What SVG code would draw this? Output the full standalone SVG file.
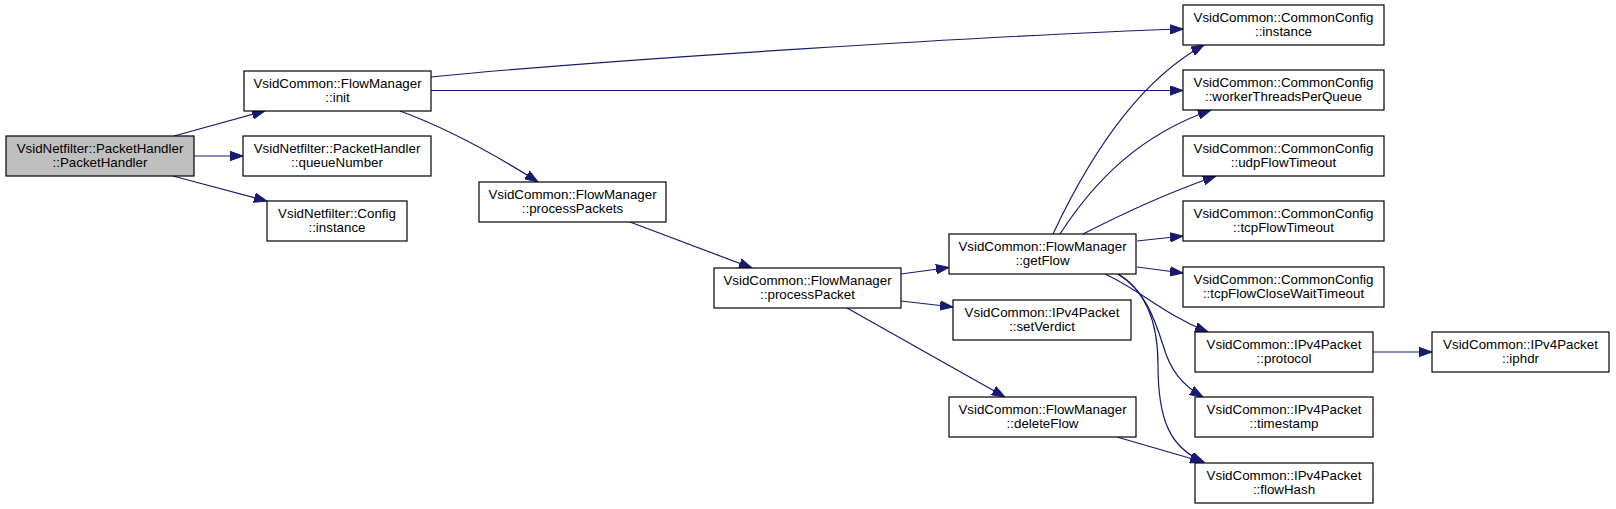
<svg xmlns="http://www.w3.org/2000/svg" width="1616" height="509" viewBox="0 0 1616 509">
<style>
.box{fill:#ffffff;stroke:#000000;stroke-width:1.2}
.root{fill:#bfbfbf}
text{font-family:"Liberation Sans",Arial,Helvetica,sans-serif;font-size:13.33px;fill:#000000;text-anchor:middle}
.e{fill:none;stroke:#191970;stroke-width:1.2}
</style>
<defs>
<marker id="arr" markerUnits="userSpaceOnUse" markerWidth="14" markerHeight="10" refX="13" refY="5" orient="auto">
<path d="M0,0.3 L13,5 L0,9.7 z" fill="#191970" stroke="#191970" stroke-width="1"/>
</marker>
</defs>
<rect width="1616" height="509" fill="#ffffff"/>
<g id="connectors">
<path class="e" marker-end="url(#arr)" d="M174,136 L265,111"/>
<path class="e" marker-end="url(#arr)" d="M194,156 L243,156"/>
<path class="e" marker-end="url(#arr)" d="M173,176 L267,201"/>
<path class="e" marker-end="url(#arr)" d="M431,77 C600,60 1000,35 1183,29"/>
<path class="e" marker-end="url(#arr)" d="M431,90.5 L1183,90.5"/>
<path class="e" marker-end="url(#arr)" d="M400,111 C430,122 480,145 538,182"/>
<path class="e" marker-end="url(#arr)" d="M630,222 L752,268"/>
<path class="e" marker-end="url(#arr)" d="M901,274 L949,267.5"/>
<path class="e" marker-end="url(#arr)" d="M901,301 L953,307"/>
<path class="e" marker-end="url(#arr)" d="M847,308 L1005,397"/>
<path class="e" marker-end="url(#arr)" d="M1053,234 C1090,155 1140,80 1204,45"/>
<path class="e" marker-end="url(#arr)" d="M1060,234 C1095,180 1140,135 1211,110"/>
<path class="e" marker-end="url(#arr)" d="M1083,234 C1120,215 1170,192 1216,176"/>
<path class="e" marker-end="url(#arr)" d="M1137,241 L1183,236"/>
<path class="e" marker-end="url(#arr)" d="M1137,267 L1183,273"/>
<path class="e" marker-end="url(#arr)" d="M1105,274 C1140,290 1165,315 1208,332"/>
<path class="e" marker-end="url(#arr)" d="M1118,274 C1145,290 1155,320 1163,345 C1170,370 1182,385 1203,397"/>
<path class="e" marker-end="url(#arr)" d="M1118,274 C1145,290 1158,320 1158,365 C1158,420 1170,448 1204,462"/>
<path class="e" marker-end="url(#arr)" d="M1117,437 L1203,462"/>
<path class="e" marker-end="url(#arr)" d="M1373,352 L1432,352"/>
</g>
<g id="n0"><rect class="box root" x="6" y="136" width="188" height="40"/><text x="100" y="152.6">VsidNetfilter::PacketHandler</text><text x="100" y="167.3">::PacketHandler</text></g>
<g id="n1"><rect class="box" x="244" y="71" width="187" height="40"/><text x="337.5" y="87.6">VsidCommon::FlowManager</text><text x="337.5" y="102.3">::init</text></g>
<g id="n2"><rect class="box" x="243" y="136" width="188" height="40"/><text x="337" y="152.6">VsidNetfilter::PacketHandler</text><text x="337" y="167.3">::queueNumber</text></g>
<g id="n3"><rect class="box" x="267" y="201" width="140" height="40"/><text x="337" y="217.6">VsidNetfilter::Config</text><text x="337" y="232.3">::instance</text></g>
<g id="n4"><rect class="box" x="1183" y="5" width="201" height="40"/><text x="1283.5" y="21.6">VsidCommon::CommonConfig</text><text x="1283.5" y="36.3">::instance</text></g>
<g id="n5"><rect class="box" x="1183" y="70" width="201" height="40"/><text x="1283.5" y="86.6">VsidCommon::CommonConfig</text><text x="1283.5" y="101.3">::workerThreadsPerQueue</text></g>
<g id="n6"><rect class="box" x="479" y="182" width="187" height="40"/><text x="572.5" y="198.6">VsidCommon::FlowManager</text><text x="572.5" y="213.3">::processPackets</text></g>
<g id="n7"><rect class="box" x="714" y="268" width="187" height="40"/><text x="807.5" y="284.6">VsidCommon::FlowManager</text><text x="807.5" y="299.3">::processPacket</text></g>
<g id="n8"><rect class="box" x="949" y="234" width="187" height="40"/><text x="1042.5" y="250.6">VsidCommon::FlowManager</text><text x="1042.5" y="265.3">::getFlow</text></g>
<g id="n9"><rect class="box" x="1183" y="136" width="201" height="40"/><text x="1283.5" y="152.6">VsidCommon::CommonConfig</text><text x="1283.5" y="167.3">::udpFlowTimeout</text></g>
<g id="n10"><rect class="box" x="1183" y="201" width="201" height="40"/><text x="1283.5" y="217.6">VsidCommon::CommonConfig</text><text x="1283.5" y="232.3">::tcpFlowTimeout</text></g>
<g id="n11"><rect class="box" x="1183" y="267" width="201" height="40"/><text x="1283.5" y="283.6">VsidCommon::CommonConfig</text><text x="1283.5" y="298.3">::tcpFlowCloseWaitTimeout</text></g>
<g id="n12"><rect class="box" x="953" y="300" width="178" height="40"/><text x="1042" y="316.6">VsidCommon::IPv4Packet</text><text x="1042" y="331.3">::setVerdict</text></g>
<g id="n13"><rect class="box" x="1195" y="332" width="178" height="40"/><text x="1284" y="348.6">VsidCommon::IPv4Packet</text><text x="1284" y="363.3">::protocol</text></g>
<g id="n14"><rect class="box" x="1432" y="332" width="177" height="40"/><text x="1520.5" y="348.6">VsidCommon::IPv4Packet</text><text x="1520.5" y="363.3">::iphdr</text></g>
<g id="n15"><rect class="box" x="949" y="397" width="187" height="40"/><text x="1042.5" y="413.6">VsidCommon::FlowManager</text><text x="1042.5" y="428.3">::deleteFlow</text></g>
<g id="n16"><rect class="box" x="1195" y="397" width="178" height="40"/><text x="1284" y="413.6">VsidCommon::IPv4Packet</text><text x="1284" y="428.3">::timestamp</text></g>
<g id="n17"><rect class="box" x="1195" y="463" width="178" height="40"/><text x="1284" y="479.6">VsidCommon::IPv4Packet</text><text x="1284" y="494.3">::flowHash</text></g>
</svg>
